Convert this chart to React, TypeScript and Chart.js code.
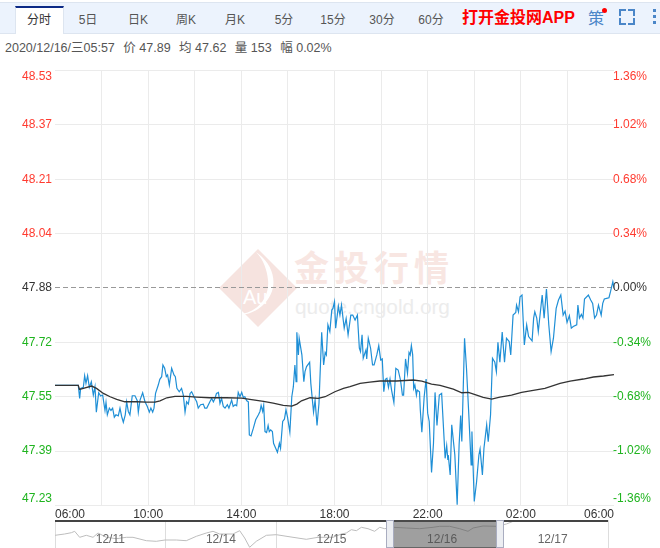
import { useEffect, useRef } from 'react'
import { Chart, registerables, type Plugin } from 'chart.js'

Chart.register(...registerables)

const FONT_LATIN = '"Liberation Sans", Arial, sans-serif'
const FONT_CJK = '"Liberation Sans", "Noto Sans CJK SC", sans-serif'

const tabs = ['分时', '5日', '日K', '周K', '月K', '5分', '15分', '30分', '60分']
const tabCenters = [39, 88, 138, 186, 235, 284, 333, 382, 431]
const infoItems = ['2020/12/16/三05:57', '价 47.89', '均 47.62', '量 153', '幅 0.02%']

const yTickValues = [48.53, 48.3675, 48.205, 48.0425, 47.88, 47.7175, 47.555, 47.3925, 47.23]
const priceLabels = ['48.53', '48.37', '48.21', '48.04', '47.88', '47.72', '47.55', '47.39', '47.23']
const percentLabels = ['1.36%', '1.02%', '0.68%', '0.34%', '0.00%', '-0.34%', '-0.68%', '-1.02%', '-1.36%']
const timeLabels = ['06:00', '10:00', '14:00', '18:00', '22:00', '02:00', '06:00']
const prevClose = 47.88

// minutes since 06:00
const priceMinutes = [
  0, 60, 63.5, 66, 73, 76.4, 79.8, 84, 88.4, 93.6, 98.7, 103, 106.5, 112.5, 117.6, 122.8, 128.8, 131.4, 134.8, 140,
  144.2, 148.5, 152.8, 157, 163, 167.4, 171.7, 176, 181, 184.6, 188.9, 193, 199, 206, 212, 214.6, 219, 225.8, 231.8, 237.8,
  243, 247, 251.6, 255, 259, 266, 270, 274.8, 278, 282.5, 286.8, 290, 294.5, 300.5, 306.5, 310, 314, 320, 326, 330.6,
  335, 339, 343.5, 348, 352, 358, 365, 369, 375, 382, 386, 391, 399, 403.6, 408, 412, 416, 421, 425, 429,
  433.6, 438, 444, 448, 455, 459, 464, 468, 472, 476.5, 481, 485, 489, 494, 498, 500.6,
  505, 511, 517, 524, 528, 531, 535, 537.6, 541, 545, 549, 552, 555.6, 560, 563, 568.5, 573, 578, 581, 586.5,
  591, 595, 599, 605, 610, 614, 618, 621, 623, 627, 629, 636, 641, 644, 648, 656, 659, 666, 670, 675,
  680, 687, 692, 696, 699, 703, 708, 713, 716, 720, 723, 730, 734, 738, 743, 745, 750, 755, 762, 767,
  773, 779, 784, 787, 791, 794, 801, 803, 807, 813, 818, 822, 829, 834, 839, 843, 847, 851, 855, 859,
  863, 867, 873, 878, 884, 890, 895, 898, 903, 908, 912, 915, 918, 921.4, 924, 927, 931, 933, 939, 941,
  945, 951, 956, 960, 964, 970, 975, 979, 984, 990,
  996, 1005, 1009, 1012, 1013, 1018, 1022, 1030, 1036, 1041, 1045, 1048, 1055, 1060, 1066, 1072, 1074, 1080, 1086, 1092,
  1095, 1101, 1105, 1109, 1112, 1116, 1122, 1127, 1133, 1137, 1141, 1146, 1152, 1158, 1163, 1170, 1174, 1180, 1187, 1189,
  1194, 1198, 1203, 1209, 1215, 1220, 1229, 1233, 1236, 1241, 1245, 1249, 1255, 1260, 1266, 1272, 1278, 1284, 1291, 1297,
  1303, 1309, 1314, 1319, 1325, 1330, 1335, 1344, 1347, 1351, 1356, 1360, 1364, 1374, 1380, 1385, 1390, 1395, 1400, 1407,
  1411, 1415, 1421, 1427, 1431, 1437, 1440,
]
const priceValues = [
  47.589, 47.589, 47.55, 47.58, 47.583, 47.618, 47.595, 47.618, 47.583, 47.6, 47.56, 47.585, 47.509, 47.567, 47.557, 47.56, 47.514, 47.538, 47.501, 47.521,
  47.514, 47.521, 47.494, 47.501, 47.498, 47.521, 47.496, 47.479, 47.501, 47.54, 47.511, 47.501, 47.558, 47.558, 47.543, 47.509, 47.545, 47.567, 47.54, 47.526,
  47.509, 47.521, 47.509, 47.521, 47.565, 47.59, 47.607, 47.615, 47.65, 47.64, 47.615, 47.62, 47.59, 47.64, 47.62, 47.615, 47.58, 47.57, 47.58, 47.56,
  47.509, 47.54, 47.533, 47.565, 47.57, 47.555, 47.54, 47.521, 47.531, 47.533, 47.521, 47.521, 47.54, 47.55, 47.54, 47.55, 47.565, 47.568, 47.535, 47.55,
  47.526, 47.521, 47.531, 47.521, 47.545, 47.526, 47.531, 47.528, 47.568, 47.555, 47.568, 47.553, 47.555, 47.543, 47.54, 47.441,
  47.438, 47.461, 47.486, 47.501, 47.511, 47.529, 47.511, 47.529, 47.451, 47.448, 47.469, 47.451, 47.456, 47.451, 47.416, 47.401, 47.389, 47.416, 47.401, 47.481,
  47.488, 47.516, 47.494, 47.449, 47.555, 47.585, 47.65, 47.6, 47.748, 47.68, 47.73, 47.68, 47.6, 47.63, 47.645, 47.658, 47.595, 47.509, 47.545, 47.469,
  47.535, 47.748, 47.65, 47.687, 47.68, 47.77, 47.75, 47.814, 47.819, 47.839, 47.76, 47.826, 47.799, 47.829, 47.779, 47.76, 47.789, 47.74, 47.799, 47.799,
  47.784, 47.799, 47.7, 47.69, 47.74, 47.67, 47.695, 47.668, 47.73, 47.7, 47.65, 47.65, 47.68, 47.708, 47.665, 47.668, 47.57, 47.607, 47.61, 47.583,
  47.608, 47.575, 47.538, 47.64, 47.635, 47.605, 47.56, 47.56, 47.668, 47.625, 47.687, 47.68, 47.708, 47.68, 47.58, 47.59, 47.56, 47.575, 47.57, 47.516,
  47.449, 47.555, 47.608, 47.506, 47.481, 47.329, 47.416, 47.568, 47.469, 47.56,
  47.565, 47.371, 47.409, 47.366, 47.381, 47.321, 47.471, 47.381, 47.232, 47.411, 47.499, 47.421, 47.73, 47.64, 47.501, 47.351, 47.451, 47.242, 47.301, 47.381,
  47.399, 47.321, 47.401, 47.441, 47.471, 47.421, 47.501, 47.67, 47.658, 47.63, 47.718, 47.658, 47.748, 47.658, 47.73, 47.72, 47.68, 47.799, 47.807, 47.829,
  47.809, 47.854, 47.859, 47.71, 47.77, 47.735, 47.722, 47.79, 47.809, 47.79, 47.75, 47.794, 47.859, 47.79, 47.877, 47.77, 47.69, 47.73, 47.819, 47.844,
  47.859, 47.799, 47.811, 47.777, 47.797, 47.76, 47.765, 47.77, 47.829, 47.79, 47.801, 47.79, 47.847, 47.859, 47.844, 47.834, 47.79, 47.799, 47.829, 47.799,
  47.834, 47.847, 47.849, 47.851, 47.869, 47.899, 47.879,
]

const avgMinutes = [
  0, 60, 63, 73, 94.4, 107, 124.5, 142, 159, 180, 210.4, 236, 257.6, 270.5, 288, 309, 339, 365, 399, 442, 481,
  502, 537, 562, 588, 610, 623, 635, 657, 678, 696, 721, 743, 760, 786, 811, 837, 880, 923, 945, 970, 992,
  1026, 1048, 1065, 1086, 1103, 1125, 1146, 1176, 1202, 1232, 1262, 1301, 1327, 1361, 1387, 1413, 1440,
]
const avgValues = [
  47.589, 47.589, 47.577, 47.58, 47.587, 47.58, 47.565, 47.555, 47.547, 47.54, 47.54, 47.539, 47.539, 47.543, 47.552, 47.556, 47.556, 47.554, 47.552, 47.552, 47.551,
  47.547, 47.541, 47.536, 47.529, 47.527, 47.533, 47.543, 47.552, 47.55, 47.555, 47.57, 47.58, 47.585, 47.595, 47.599, 47.602, 47.602, 47.605, 47.602, 47.593, 47.589,
  47.578, 47.567, 47.568, 47.56, 47.553, 47.548, 47.554, 47.56, 47.568, 47.574, 47.58, 47.595, 47.602, 47.608, 47.614, 47.617, 47.621,
]

// overview strip, x in days
const navLabels = ['12/11', '12/14', '12/15', '12/16', '12/17']
const navDays = [
  0, 0.087, 0.148, 0.178, 0.223, 0.283, 0.344, 0.389, 0.464, 0.555, 0.645, 0.705, 0.826, 0.916, 0.995, 1.097, 1.187, 1.278, 1.368, 1.429,
  1.489, 1.609, 1.67, 1.715, 1.76, 1.82, 1.911, 2.001, 2.152, 2.272, 2.378, 2.514, 2.589, 2.634, 2.679, 2.725, 2.77, 2.83, 2.89, 2.936,
  2.981, 3.056, 3.176, 3.297, 3.418, 3.478, 3.568, 3.659, 3.734, 3.78, 3.87, 3.991, 4.081, 4.157,
]
const navValues = [
  47.27, 47.4, 47.53, 47.67, 47.07, 47.27, 47.07, 47.5, 47.07, 46.93, 47.07, 47.07, 46.73, 46.67, 46.8, 46.8, 46.73, 47.17, 47.5, 47.67,
  47.4, 47.4, 47.73, 47.0, 46.07, 46.67, 47.27, 47.33, 47.07, 46.87, 47.07, 47.07, 47.4, 47.5, 47.83, 47.73, 48.07, 47.93, 47.67, 48.07,
  47.93, 48.07, 48.0, 47.93, 48.07, 48.17, 48.17, 47.93, 47.67, 48.0, 48.2, 48.17, 48.4, 48.73,
]

function labelColor(i: number): string {
  if (i < 4) return '#ff3b30'
  if (i === 4) return '#333333'
  return '#1fb41f'
}

const sideLabelsPlugin: Plugin<'line'> = {
  id: 'sideLabels',
  afterDraw(chart) {
    const { ctx, chartArea, scales } = chart
    ctx.save()
    ctx.font = `12px ${FONT_LATIN}`
    ctx.textBaseline = 'middle'
    yTickValues.forEach((v, i) => {
      let y = scales.y.getPixelForValue(v)
      if (i === 0) y += 6
      if (i === yTickValues.length - 1) y -= 7
      ctx.fillStyle = labelColor(i)
      ctx.textAlign = 'right'
      ctx.fillText(priceLabels[i], chartArea.left - 3, y)
      ctx.textAlign = 'left'
      ctx.fillText(percentLabels[i], chartArea.right - 1, y)
    })
    ctx.restore()
  },
}

const navLabelsPlugin: Plugin<'line'> = {
  id: 'navLabels',
  afterDraw(chart) {
    const { ctx, chartArea, scales } = chart
    ctx.save()
    ctx.font = `12px ${FONT_LATIN}`
    ctx.fillStyle = '#666666'
    ctx.textAlign = 'center'
    ctx.textBaseline = 'middle'
    navLabels.forEach((label, i) => {
      ctx.fillText(label, scales.x.getPixelForValue(i + 0.5), chartArea.top + 20)
    })
    ctx.restore()
  },
}

function PriceChart() {
  const canvasRef = useRef<HTMLCanvasElement>(null)

  useEffect(() => {
    const canvas = canvasRef.current
    if (!canvas) return
    const chart = new Chart(canvas, {
      type: 'line',
      data: {
        datasets: [
          {
            label: 'avg',
            data: avgMinutes.map((x, i) => ({ x, y: avgValues[i] })),
            borderColor: '#333333',
            borderWidth: 1.3,
            pointRadius: 0,
          },
          {
            label: 'price',
            data: priceMinutes.map((x, i) => ({ x, y: priceValues[i] })),
            borderColor: '#1f8fd6',
            borderWidth: 1.2,
            pointRadius: 0,
          },
        ],
      },
      options: {
        responsive: false,
        animation: false,
        layout: { padding: { top: 70.5, left: 55, right: 46, bottom: 27.5 } },
        plugins: { legend: { display: false }, tooltip: { enabled: false } },
        scales: {
          x: {
            type: 'linear',
            min: 0,
            max: 1440,
            afterFit: (s) => {
              s.height = 15
            },
            grid: {
              color: (c) => (c.tick.value === 0 || c.tick.value === 1440 ? 'rgba(0,0,0,0)' : '#ebebeb'),
              drawTicks: false,
            },
            border: { display: false },
            ticks: {
              stepSize: 120,
              autoSkip: false,
              maxRotation: 0,
              padding: 2,
              align: 'inner',
              color: '#333333',
              font: { family: FONT_LATIN, size: 12 },
              callback: (v) => (Number(v) % 240 === 0 ? timeLabels[Number(v) / 240] : ''),
            },
          },
          y: {
            min: 47.23,
            max: 48.53,
            afterBuildTicks: (s) => {
              s.ticks = yTickValues.map((value) => ({ value }))
            },
            afterFit: (s) => {
              s.width = 0
            },
            grid: {
              color: (c) => (c.tick.value === prevClose ? '#999999' : '#ebebeb'),
              drawTicks: false,
            },
            // the previous close is the dashed grid line
            border: {
              display: false,
              dash: (c) => (c.tick && c.tick.value === prevClose ? [5, 3] : []),
            },
            ticks: { display: false },
          },
        },
      },
      plugins: [sideLabelsPlugin],
    })
    return () => chart.destroy()
  }, [])

  return <canvas ref={canvasRef} width={660} height={548} style={{ position: 'absolute', left: 0, top: 0 }} />
}

function NavChart() {
  const canvasRef = useRef<HTMLCanvasElement>(null)

  useEffect(() => {
    const canvas = canvasRef.current
    if (!canvas) return
    const chart = new Chart(canvas, {
      type: 'line',
      data: {
        datasets: [
          {
            data: navDays.map((x, i) => ({ x, y: navValues[i] })),
            borderColor: '#bdbdbd',
            borderWidth: 1,
            pointRadius: 0,
          },
        ],
      },
      options: {
        responsive: false,
        animation: false,
        layout: { padding: { top: 0, left: 55, right: 52, bottom: 0 } },
        plugins: { legend: { display: false }, tooltip: { enabled: false } },
        scales: {
          x: {
            type: 'linear',
            min: 0,
            max: 5,
            afterFit: (s) => {
              s.height = 0
            },
            grid: { color: '#dddddd', drawTicks: false },
            border: { display: false },
            ticks: { display: false, stepSize: 1 },
          },
          y: {
            min: 46,
            max: 48.8,
            display: false,
          },
        },
      },
      plugins: [navLabelsPlugin],
    })
    return () => chart.destroy()
  }, [])

  return <canvas ref={canvasRef} width={660} height={28} style={{ position: 'absolute', left: 0, top: 520 }} />
}

function Box({ l, t, w, h, bg, extra }: { l: number; t: number; w: number; h: number; bg: string; extra?: object }) {
  return <div style={{ position: 'absolute', left: l, top: t, width: w, height: h, background: bg, ...extra }} />
}

function Toolbar() {
  const blue = '#4a86c8'
  return (
    <>
      <Box l={0} t={2} w={660} h={32} bg="#ecf3fd" extra={{ borderTop: '1px solid #dde5f0', borderBottom: '1px solid #dde5f0', boxSizing: 'border-box' }} />
      <Box l={15} t={6} w={49} h={28} bg="#ffffff" extra={{ borderTop: '2px solid #0c2a86', borderLeft: '1px solid #dde5f0', borderRight: '1px solid #dde5f0', boxSizing: 'border-box' }} />
      {tabs.map((t, i) => (
        <div
          key={t}
          style={{
            position: 'absolute',
            left: tabCenters[i] - 24,
            width: 48,
            top: 12,
            lineHeight: '17px',
            textAlign: 'center',
            fontSize: 12,
            color: i === 0 ? '#333' : '#555',
            fontFamily: FONT_CJK,
          }}
        >
          {t}
        </div>
      ))}
      <div style={{ position: 'absolute', left: 462, top: 8, lineHeight: '20px', fontSize: 16, fontWeight: 'bold', color: '#ff0000', fontFamily: FONT_CJK, whiteSpace: 'nowrap' }}>
        打开金投网APP
      </div>
      <div style={{ position: 'absolute', left: 588, top: 9, lineHeight: '20px', fontSize: 16, color: blue, fontFamily: FONT_CJK }}>策</div>
      <Box l={602} t={8} w={5} h={5} bg="#ff0000" extra={{ borderRadius: '50%' }} />
      <Box l={619} t={9} w={5} h={5} bg="transparent" extra={{ borderTop: `2px solid ${blue}`, borderLeft: `2px solid ${blue}` }} />
      <Box l={628} t={9} w={5} h={5} bg="transparent" extra={{ borderTop: `2px solid ${blue}`, borderRight: `2px solid ${blue}` }} />
      <Box l={619} t={18} w={5} h={5} bg="transparent" extra={{ borderBottom: `2px solid ${blue}`, borderLeft: `2px solid ${blue}` }} />
      <Box l={628} t={18} w={5} h={5} bg="transparent" extra={{ borderBottom: `2px solid ${blue}`, borderRight: `2px solid ${blue}` }} />
      <Box l={653} t={9} w={3} h={3} bg={blue} />
      <Box l={653} t={15} w={3} h={3} bg={blue} />
      <Box l={653} t={21} w={3} h={3} bg={blue} />
      <div style={{ position: 'absolute', left: 5, top: 40, lineHeight: '17px', fontSize: 12.5, color: '#555', fontFamily: FONT_CJK, whiteSpace: 'nowrap' }}>
        {infoItems.map((t, i) => (
          <span key={t} style={{ marginRight: i < infoItems.length - 1 ? 8.5 : 0 }}>
            {t}
          </span>
        ))}
      </div>
    </>
  )
}

function Watermark() {
  return (
    <>
      <svg width={80} height={80} style={{ position: 'absolute', left: 218, top: 248 }}>
        <path d="M40 1 L79 40 L40 79 L1 40 Z" fill="#f6e3df" />
        <path d="M38 4 C58 18 62 42 44 58 C36 65 26 68 20 66 C38 66 52 50 50 32 C49 20 44 10 38 4 Z" fill="#ffffff" />
      </svg>
      <div style={{ position: 'absolute', left: 243, top: 285, lineHeight: '24px', fontSize: 20, color: '#ffffff', fontFamily: FONT_LATIN }}>Au</div>
      <div style={{ position: 'absolute', left: 294, top: 244, lineHeight: '44px', fontSize: 35, fontWeight: 'bold', letterSpacing: 5, color: '#f8e6e2', fontFamily: '"Noto Sans CJK SC", sans-serif', whiteSpace: 'nowrap' }}>
        金投行情
      </div>
      <div style={{ position: 'absolute', left: 295, top: 294, lineHeight: '26px', fontSize: 20.8, color: '#ececec', fontFamily: FONT_LATIN, whiteSpace: 'nowrap' }}>
        quote.cngold.org
      </div>
    </>
  )
}

function NavOverlay() {
  const handle = { border: '1px solid #a9adc0', boxSizing: 'border-box' }
  return (
    <>
      <Box l={55} t={520} w={553} h={2} bg="#444444" />
      <Box l={393} t={520} w={103} h={28} bg="rgba(80,80,80,0.55)" extra={{ borderBottom: '1px solid #666', boxSizing: 'border-box' }} />
      <Box l={386} t={520} w={8} h={28} bg="#eceef2" extra={handle} />
      <Box l={496} t={520} w={8} h={28} bg="#eceef2" extra={handle} />
    </>
  )
}

export default function App() {
  return (
    <div style={{ position: 'absolute', left: 0, top: 0, width: 660, height: 548, overflow: 'hidden', background: '#fff' }}>
      <Toolbar />
      <Watermark />
      <PriceChart />
      <NavChart />
      <NavOverlay />
    </div>
  )
}
